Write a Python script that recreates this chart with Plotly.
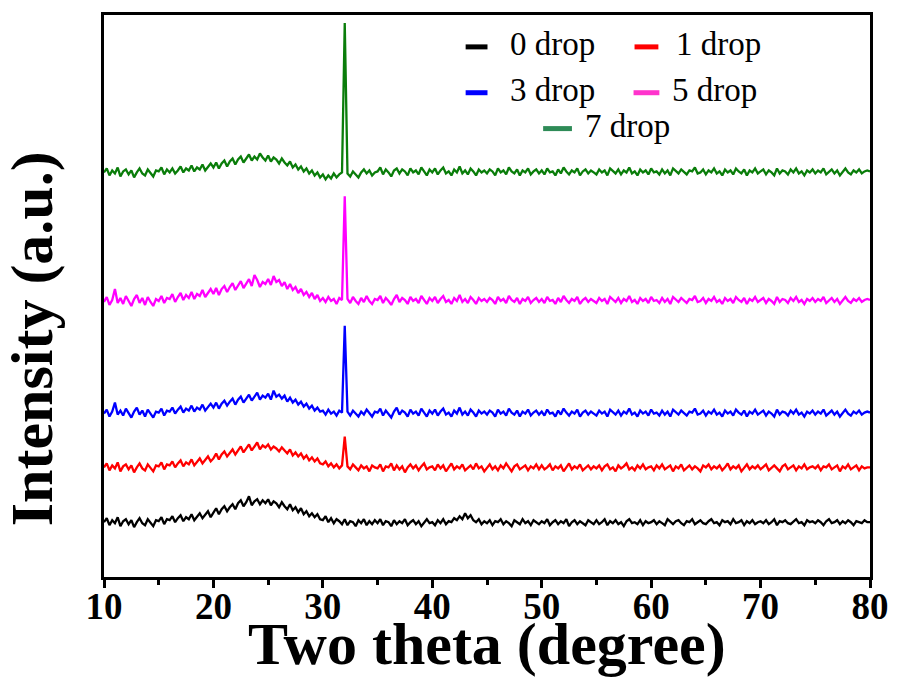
import numpy as np
import plotly.graph_objects as go

# Two-theta grid: 10 to 80 degrees, 0.25 degree step (281 points)
two_theta = np.linspace(10, 80, 281)

drop_0 = [
    55, 59, 52, 57, 54, 60, 51, 56, 58, 53, 57, 50, 55, 59, 54, 52, 58, 55, 51, 57,
    56, 60, 53, 58, 57, 61, 55, 59, 62, 56, 60, 58, 63, 57, 61, 64, 59, 62, 66, 60,
    64, 69, 63, 68, 71, 66, 70, 73, 68, 74, 77, 71, 75, 81, 72, 76, 78, 73, 77, 74,
    78, 72, 76, 74, 70, 75, 71, 68, 73, 67, 70, 65, 69, 63, 66, 61, 64, 60, 63, 58,
    57, 61, 55, 59, 54, 58, 56, 53, 58, 52, 56, 55, 51, 57, 54, 58, 52, 56, 53, 57,
    54, 58, 52, 56, 55, 51, 57, 53, 56, 54, 58, 52, 55, 57, 53, 56, 51, 55, 58, 54,
    55, 52, 57, 54, 58, 53, 56, 55, 59, 57, 61, 58, 64, 59, 62, 57, 55, 58, 53, 56,
    54, 57, 52, 56, 55, 58, 53, 56, 54, 51, 57, 55, 53, 58, 54, 56, 52, 57, 55, 53,
    56, 54, 58, 52, 55, 57, 53, 56, 54, 58, 51, 55, 57, 53, 56, 54, 52, 57, 55, 53,
    57, 53, 55, 58, 52, 56, 54, 57, 53, 55, 51, 56, 58, 54, 55, 53, 57, 52, 56, 54,
    55, 57, 53, 56, 54, 52, 58, 55, 53, 56, 57, 54, 52, 56, 55, 58, 53, 55, 57, 54,
    53, 56, 58, 54, 55, 52, 57, 55, 56, 53, 58, 54, 55, 57, 52, 56, 54, 57, 53, 55,
    56, 54, 57, 53, 55, 58, 52, 56, 55, 57, 54, 53, 56, 58, 54, 55, 52, 57, 55, 56,
    54, 57, 55, 52, 56, 58, 54, 55, 57, 53, 56, 54, 57, 55, 52, 56, 55, 54, 57, 55,
    55,
]

drop_1 = [
    110, 114, 107, 112, 109, 115, 106, 111, 113, 108, 112, 105, 110, 114, 109, 107, 113, 110, 106, 112,
    111, 115, 108, 113, 112, 116, 110, 114, 117, 111, 115, 113, 118, 112, 116, 119, 114, 118, 121, 116,
    119, 124, 118, 123, 126, 121, 125, 128, 123, 127, 131, 125, 129, 133, 127, 131, 135, 128, 132, 130,
    133, 128, 131, 129, 126, 130, 127, 124, 128, 122, 125, 121, 124, 119, 122, 117, 120, 116, 119, 114,
    113, 116, 111, 114, 110, 113, 109, 112, 141, 111, 108, 113, 110, 107, 112, 109, 111, 106, 112, 110,
    109, 113, 106, 111, 110, 114, 107, 112, 108, 111, 105, 110, 113, 109, 112, 107, 111, 114, 108, 110,
    111, 107, 113, 109, 112, 106, 110, 114, 108, 111, 109, 113, 107, 110, 112, 108, 114, 109, 111, 106,
    110, 113, 108, 111, 107, 112, 109, 114, 110, 106, 111, 113, 108, 110, 112, 107, 111, 109, 113, 108,
    112, 108, 110, 113, 107, 111, 109, 112, 106, 110, 114, 108, 111, 109, 113, 107, 110, 112, 108, 111,
    109, 112, 107, 111, 113, 108, 110, 106, 112, 109, 111, 114, 108, 110, 107, 112, 109, 113, 108, 110,
    111, 107, 112, 109, 113, 108, 110, 112, 106, 111, 109, 113, 107, 110, 112, 108, 111, 109, 106, 112,
    110, 113, 108, 111, 109, 112, 107, 110, 114, 108, 111, 109, 112, 106, 110, 113, 108, 111, 109, 112,
    108, 111, 113, 107, 110, 112, 109, 106, 111, 113, 108, 110, 112, 107, 111, 109, 113, 108, 110, 111,
    109, 112, 107, 111, 110, 113, 108, 110, 112, 106, 111, 109, 113, 108, 110, 112, 107, 111, 109, 110,
    110,
]

drop_3 = [
    164, 168, 161, 166, 175, 163, 167, 162, 169, 165, 160, 166, 170, 163, 167, 161, 168, 164, 160, 166,
    165, 169, 162, 167, 166, 170, 164, 168, 171, 165, 169, 167, 172, 166, 170, 168, 173, 167, 171, 174,
    170, 175, 169, 174, 177, 172, 176, 179, 173, 178, 181, 175, 179, 183, 177, 181, 185, 178, 182, 180,
    184, 178, 187, 181, 183, 179, 182, 176, 180, 175, 178, 173, 176, 171, 174, 169, 172, 167, 170, 166,
    167, 163, 168, 164, 166, 162, 167, 165, 252, 166, 162, 167, 164, 161, 166, 163, 168, 164, 161, 166,
    165, 169, 162, 167, 164, 160, 166, 170, 163, 167, 165, 161, 168, 164, 166, 162, 169, 165, 161, 167,
    164, 168, 162, 166, 169, 163, 165, 161, 167, 164, 170, 163, 166, 162, 168, 165, 161, 167, 164, 166,
    163, 167, 165, 161, 168, 164, 166, 162, 169, 165, 163, 167, 161, 166, 164, 168, 162, 165, 167, 163,
    166, 162, 168, 164, 165, 161, 167, 163, 169, 165, 162, 166, 164, 168, 161, 165, 167, 163, 166, 164,
    162, 167, 164, 166, 161, 168, 165, 163, 167, 162, 166, 164, 169, 163, 165, 161, 167, 164, 166, 162,
    168, 164, 165, 162, 167, 163, 166, 161, 168, 165, 163, 167, 164, 162, 166, 165, 169, 163, 164, 167,
    162, 166, 164, 168, 163, 165, 161, 167, 164, 166, 162, 168, 165, 163, 167, 161, 166, 164, 168, 163,
    165, 167, 162, 166, 164, 161, 168, 163, 166, 165, 162, 167, 164, 168, 163, 165, 161, 166, 164, 167,
    163, 166, 164, 168, 162, 165, 167, 163, 166, 161, 165, 168, 164, 162, 166, 164, 167, 163, 165, 166,
    165,
]

drop_5 = [
    276, 281, 273, 278, 289, 275, 280, 274, 282, 277, 272, 279, 283, 275, 280, 273, 281, 276, 272, 279,
    277, 282, 275, 280, 279, 284, 276, 281, 285, 278, 283, 280, 286, 279, 284, 282, 288, 281, 285, 289,
    284, 290, 283, 289, 292, 286, 291, 295, 288, 293, 297, 290, 295, 299, 292, 303, 298, 291, 296, 294,
    299, 293, 302, 296, 298, 292, 296, 289, 294, 288, 291, 285, 289, 283, 286, 281, 285, 279, 283, 277,
    280, 276, 281, 277, 279, 274, 280, 278, 382, 279, 275, 281, 277, 274, 280, 276, 282, 277, 274, 279,
    278, 282, 275, 280, 277, 273, 279, 283, 276, 280, 278, 274, 281, 277, 279, 275, 282, 278, 274, 280,
    277, 281, 275, 279, 282, 276, 278, 274, 280, 277, 283, 276, 279, 275, 281, 278, 274, 280, 277, 279,
    276, 280, 278, 274, 281, 277, 279, 275, 282, 278, 276, 280, 274, 279, 277, 281, 275, 278, 280, 276,
    279, 275, 281, 277, 278, 274, 280, 276, 282, 278, 275, 279, 277, 281, 274, 278, 280, 276, 279, 277,
    275, 280, 277, 279, 274, 281, 278, 276, 280, 275, 279, 277, 282, 276, 278, 274, 280, 277, 279, 275,
    281, 277, 278, 275, 280, 276, 279, 274, 281, 278, 276, 280, 277, 275, 279, 278, 282, 276, 277, 280,
    275, 279, 277, 281, 276, 278, 274, 280, 277, 279, 275, 281, 278, 276, 280, 274, 279, 277, 281, 276,
    278, 280, 275, 279, 277, 274, 281, 276, 279, 278, 275, 280, 277, 281, 276, 278, 274, 279, 277, 280,
    276, 279, 277, 281, 275, 278, 280, 276, 279, 274, 278, 281, 277, 275, 279, 277, 280, 276, 278, 279,
    278,
]

drop_7 = [
    406, 410, 403, 408, 405, 411, 402, 407, 409, 404, 408, 401, 406, 410, 405, 403, 409, 406, 402, 408,
    407, 411, 404, 409, 406, 410, 405, 408, 412, 406, 410, 408, 413, 407, 411, 409, 414, 408, 412, 415,
    411, 416, 410, 415, 418, 412, 417, 420, 414, 419, 422, 416, 420, 424, 418, 422, 419, 425, 421, 418,
    423, 417, 421, 419, 415, 420, 416, 413, 417, 411, 414, 409, 412, 407, 410, 405, 408, 403, 406, 401,
    404, 399, 403, 400, 405, 401, 404, 406, 556, 405, 402, 407, 404, 401, 406, 409, 405, 408, 403, 406,
    407, 411, 404, 409, 406, 402, 408, 410, 405, 409, 407, 403, 410, 406, 408, 404, 411, 407, 403, 409,
    406, 410, 404, 408, 411, 405, 407, 403, 409, 406, 412, 405, 408, 404, 410, 407, 403, 409, 406, 408,
    405, 409, 407, 403, 410, 406, 408, 404, 411, 407, 405, 409, 403, 408, 406, 410, 404, 407, 409, 405,
    408, 404, 410, 406, 407, 403, 409, 405, 411, 407, 404, 408, 406, 410, 403, 407, 409, 405, 408, 406,
    404, 409, 406, 408, 403, 410, 407, 405, 409, 404, 408, 406, 411, 405, 407, 403, 409, 406, 408, 404,
    410, 406, 407, 404, 409, 405, 408, 403, 410, 407, 405, 409, 406, 404, 408, 407, 411, 405, 406, 409,
    404, 408, 406, 410, 405, 407, 403, 409, 406, 408, 404, 410, 407, 405, 409, 403, 408, 406, 410, 405,
    407, 409, 404, 408, 406, 403, 410, 405, 408, 407, 404, 409, 406, 410, 405, 407, 403, 408, 406, 409,
    405, 408, 406, 410, 404, 407, 409, 405, 408, 403, 407, 410, 406, 404, 408, 406, 409, 405, 407, 408,
    407,
]

series_names = ["0 drop", "1 drop", "3 drop", "5 drop", "7 drop"]
series_values = [drop_0, drop_1, drop_3, drop_5, drop_7]
line_colors = ["#000000", "#FF0000", "#0000FF", "#FF00FF", "#0A7D0A"]
legend_colors = ["#000000", "#FF0000", "#0000FF", "#FF33CC", "#2E8B57"]
x_tick_values = [10, 20, 30, 40, 50, 60, 70, 80]

for v in series_values:
    assert len(v) == len(two_theta), len(v)

FONT = "Liberation Serif, Times New Roman, serif"

fig = go.Figure()
for name, vals, col in zip(series_names, series_values, line_colors):
    fig.add_trace(go.Scatter(x=two_theta, y=vals, mode="lines", name=name,
                             line=dict(color=col, width=2.3), showlegend=False))

# Plot area in px: x 104..875, y 13..577
W, H = 901, 684
L, R, T, B = 104, 875, 13, 577
pw, ph = R - L, B - T


def px(xp):
    return (xp - L) / pw


def py(yp):
    return (B - yp) / ph


# Manual legend (2 columns + centered last row)
legend_layout = [
    (468, 490, 511, 45),   # 0 drop
    (638, 662, 678, 45),   # 1 drop
    (468, 490, 511, 91),   # 3 drop
    (637, 663, 674, 91),   # 5 drop
    (546, 575, 586, 127),  # 7 drop
]
shapes = []
annotations = []
for (x0, x1, xt, yr), name, col in zip(legend_layout, series_names, legend_colors):
    shapes.append(dict(type="line", xref="paper", yref="paper",
                       x0=px(x0), x1=px(x1), y0=py(yr), y1=py(yr),
                       line=dict(color=col, width=5)))
    annotations.append(dict(xref="paper", yref="paper", x=px(xt), y=py(yr - 3),
                            xanchor="left", yanchor="middle", showarrow=False,
                            text=name, font=dict(family=FONT, size=33, color="black")))

annotations.append(dict(xref="paper", yref="paper", x=px(490), y=py(644),
                        xanchor="center", yanchor="middle", showarrow=False,
                        text="<b>Two theta (degree)</b>",
                        font=dict(family=FONT, size=60, color="black")))
annotations.append(dict(xref="paper", yref="paper", x=px(31), y=py(338),
                        xanchor="center", yanchor="middle", showarrow=False,
                        textangle=-90, text="<b>Intensity (a.u.)</b>",
                        font=dict(family=FONT, size=60, color="black")))

fig.update_layout(
    width=W, height=H,
    margin=dict(l=L, r=W - R, t=T, b=H - B),
    paper_bgcolor="white", plot_bgcolor="white",
    shapes=shapes, annotations=annotations,
    showlegend=False,
)
fig.update_xaxes(
    range=[10, 80], tickvals=x_tick_values, ticktext=[str(v) for v in x_tick_values],
    showgrid=False, zeroline=False,
    showline=True, linecolor="black", linewidth=3, mirror=True,
    ticks="outside", ticklen=8, tickwidth=3, tickcolor="black",
    ticklabelstandoff=-13,
    minor=dict(dtick=5, tick0=5, ticks="outside", ticklen=5, tickwidth=3, tickcolor="black"),
    tickfont=dict(family=FONT, size=37, color="black", weight="bold"),
)
fig.update_yaxes(
    range=[0, 564], showgrid=False, zeroline=False, showticklabels=False,
    showline=True, linecolor="black", linewidth=3, mirror=True, ticks="",
)

fig.write_html("out.html", config={"displayModeBar": False},
               post_script="document.body.style.margin='0';document.body.style.padding='0';")
